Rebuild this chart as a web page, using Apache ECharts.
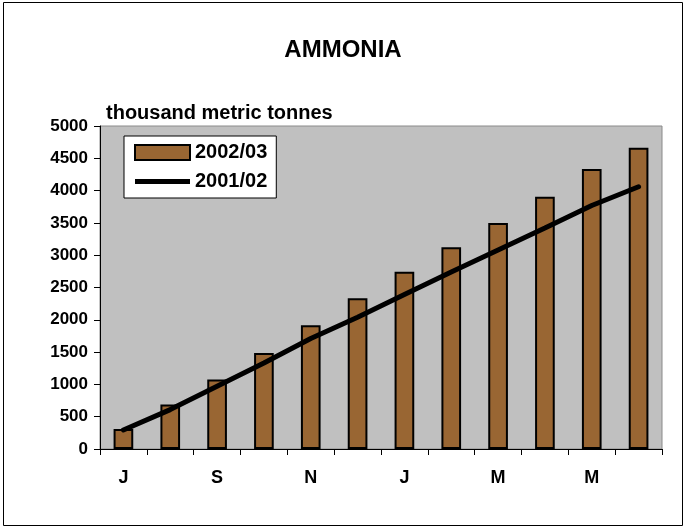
<!DOCTYPE html>
<html>
<head>
<meta charset="utf-8">
<script src="https://cdn.jsdelivr.net/npm/echarts@6/dist/echarts.min.js"></script>
<style>
  html, body { margin: 0; padding: 0; background: #fff; }
  #chart { width: 686px; height: 529px; }
</style>
</head>
<body>
<div id="chart"></div>
<script>
// months, July to June
const months = ['J', 'A', 'S', 'O', 'N', 'D', 'J', 'F', 'M', 'A', 'M', 'J'];
const yTicks = [0, 500, 1000, 1500, 2000, 2500, 3000, 3500, 4000, 4500, 5000];
// cumulative, thousand metric tonnes
const season0203 = [310, 690, 1075, 1485, 1915, 2335, 2745, 3125, 3500, 3905, 4335, 4665];
const season0102 = [295, 610, 970, 1330, 1710, 2040, 2390, 2740, 3080, 3420, 3770, 4060];

let chart = echarts.init(document.getElementById('chart'));
const font = 'Liberation Sans, Arial, sans-serif';

let option = {
    animation: false,
    textStyle: { fontFamily: font },
    title: [
        {
            text: 'AMMONIA',
            left: 'center',
            top: 33,
            textStyle: { fontSize: 24, fontWeight: 'bold', color: '#000', fontFamily: font }
        },
        {
            text: 'thousand metric tonnes',
            left: 101,
            top: 98,
            textStyle: { fontSize: 20, fontWeight: 'bold', color: '#000', fontFamily: font }
        }
    ],
    graphic: [
        {
            type: 'rect',
            shape: { x: 3.5, y: 2.5, width: 679, height: 523 },
            style: { fill: 'none', stroke: '#000', lineWidth: 1 },
            z: -1
        }
    ],
    legend: {
        orient: 'vertical',
        left: 124,
        top: 136,
        padding: [6, 9, 6, 10],
        itemGap: 8,
        itemWidth: 55,
        itemHeight: 15,
        backgroundColor: '#fff',
        borderColor: '#000',
        borderWidth: 1,
        borderRadius: 0,
        textStyle: { fontSize: 20, fontWeight: 'bold', color: '#000', fontFamily: font, lineHeight: 21 },
        data: [
            { name: '2002/03', icon: 'rect' },
            { name: '2001/02', icon: 'path://M0,0 L55,0 L55,5 L0,5 Z' }
        ]
    },
    grid: {
        left: 100,
        right: 24,
        top: 126,
        bottom: 80,
        show: true,
        backgroundColor: '#c0c0c0',
        borderColor: '#8a8a8a',
        borderWidth: 1
    },
    xAxis: {
        type: 'category',
        data: months,
        boundaryGap: true,
        axisLine: { lineStyle: { color: '#000', width: 1 } },
        axisTick: { show: true, inside: false, length: 6, interval: 0, lineStyle: { color: '#000' } },
        axisLabel: {
            interval: 1,
            margin: 20,
            fontSize: 18,
            fontWeight: 'bold',
            color: '#000',
            fontFamily: font
        }
    },
    yAxis: {
        type: 'value',
        min: 0,
        max: 5000,
        interval: 500,
        splitLine: { show: false },
        axisLine: { show: true, lineStyle: { color: '#000', width: 1 } },
        axisTick: { show: true, length: 6, lineStyle: { color: '#000' } },
        axisLabel: {
            margin: 12,
            fontSize: 17,
            fontWeight: 'bold',
            color: '#000',
            fontFamily: font,
            formatter: v => yTicks.includes(v) ? String(v) : ''
        }
    },
    series: [
        {
            name: '2002/03',
            type: 'bar',
            barWidth: '42%',
            itemStyle: { color: '#996633', borderColor: '#000', borderWidth: 2 },
            data: season0203
        },
        {
            name: '2001/02',
            type: 'line',
            symbol: 'none',
            smooth: false,
            lineStyle: { color: '#000', width: 5, cap: 'round' },
            itemStyle: { color: '#000' },
            z: 3,
            data: season0102
        }
    ]
};

chart.setOption(option);
</script>
</body>
</html>
